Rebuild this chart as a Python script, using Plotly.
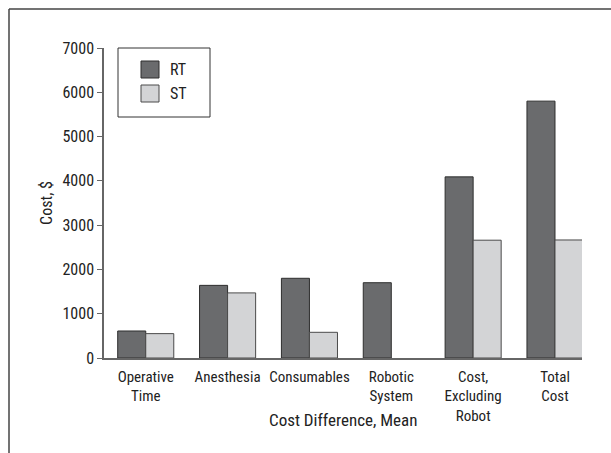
import plotly.graph_objects as go

categories = ["Operative<br>Time", "Anesthesia", "Consumables", "Robotic<br>System",
              "Cost,<br>Excluding<br>Robot", "Total<br>Cost"]
series_names = ["RT", "ST"]
rt_values = [610, 1640, 1800, 1700, 4090, 5800]
st_values = [550, 1470, 580, None, 2660, 2665]

FONT = "Liberation Sans Narrow, Arial Narrow, Roboto Condensed, Liberation Sans, sans-serif"
PW, PH = 478, 310
L, T = 104, 48
colors = ["#6a6b6d", "#d3d4d6"]
edges = ["#2e2e2e", "#4a4a4a"]


def px(x):
    return (x - L) / PW


def py(y):
    return 1 - (y - T) / PH


fig = go.Figure()
for name, vals, c, e in zip(series_names, [rt_values, st_values], colors, edges):
    fig.add_trace(go.Bar(name=name, x=categories, y=vals, showlegend=False,
                         marker=dict(color=c, line=dict(color=e, width=1))))

shapes = [
    dict(type="line", xref="paper", yref="paper", x0=px(9), x1=px(611),
         y0=py(9), y1=py(9), line=dict(color="#444", width=1.5)),
    dict(type="line", xref="paper", yref="paper", x0=px(9), x1=px(9),
         y0=py(9), y1=py(460), line=dict(color="#444", width=1.5)),
    dict(type="rect", xref="paper", yref="paper", x0=px(118), x1=px(210),
         y0=py(117), y1=py(48), line=dict(color="#333", width=1), fillcolor="white"),
]
annotations = [
    dict(text="Cost Difference, Mean", xref="paper", yref="paper",
         x=0.5, y=py(420), xanchor="center", yanchor="middle", showarrow=False,
         font=dict(family=FONT, size=17, color="#222")),
]
for i, (name, c, e) in enumerate(zip(series_names, colors, edges)):
    top = 61 + 24 * i
    shapes.append(dict(type="rect", xref="paper", yref="paper", x0=px(141), x1=px(159),
                       y0=py(top + 17), y1=py(top), fillcolor=c, line=dict(color=e, width=1)))
    annotations.append(dict(text=name, xref="paper", yref="paper", x=px(168), y=py(top + 8.5),
                            xanchor="left", yanchor="middle", showarrow=False,
                            font=dict(family=FONT, size=16, color="#222")))

fig.update_layout(
    width=611, height=453,
    margin=dict(l=104, r=29, t=48, b=95, autoexpand=False),
    paper_bgcolor="white", plot_bgcolor="white",
    barmode="group", bargap=0.315, bargroupgap=0,
    font=dict(family=FONT, size=15, color="#222"),
    showlegend=False,
    xaxis=dict(type="category", range=[-0.51, 5.33], showline=True, linecolor="#666",
               linewidth=1.5, ticks="", showgrid=False, zeroline=False,
               ticklabelstandoff=4,
               tickfont=dict(family=FONT, size=15, color="#222")),
    yaxis=dict(range=[0, 7000], dtick=1000, showline=True, linecolor="#666", linewidth=1.5,
               ticks="outside", ticklen=5, tickcolor="#666", showgrid=False, zeroline=False,
               tickfont=dict(family=FONT, size=16, color="#222"),
               title=dict(text="Cost, $", standoff=6,
                          font=dict(family=FONT, size=16, color="#222"))),
    annotations=annotations,
    shapes=shapes,
)

fig.write_html("out.html", config={"displayModeBar": False},
               post_script="document.body.style.margin='0px';document.body.style.padding='0px';")
